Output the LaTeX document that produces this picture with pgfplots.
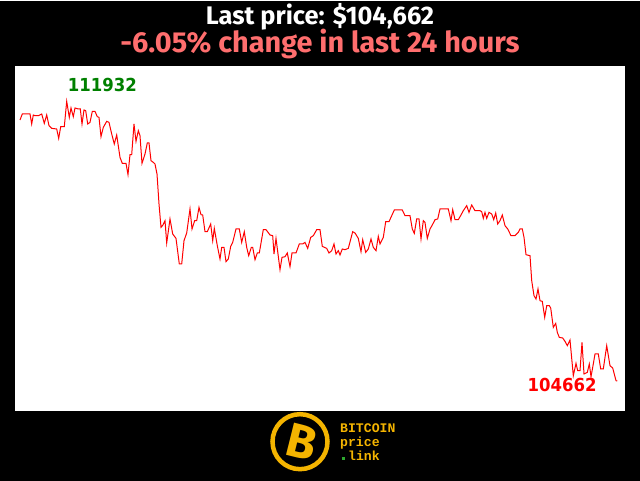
\documentclass[border=0pt]{standalone}
\usepackage{pgfplots}
\pgfplotsset{compat=1.18}
\usepackage{fontspec}
\setmainfont{Fira Sans}
\newfontfamily\labelfont[FakeStretch=0.92]{DejaVu Sans}
\newfontfamily\logofont{Liberation Mono}
\definecolor{lossred}{HTML}{FF6E6E}
\definecolor{hiGreen}{HTML}{008000}
\definecolor{btcgold}{HTML}{F4B400}
\definecolor{dotgreen}{HTML}{2EA82E}

\begin{document}
\begin{tikzpicture}[x=1bp,y=1bp]
% page background and white plot panel
\fill[black] (0,0) rectangle (640,480);
\fill[white] (15,70) rectangle (625,415);

\begin{axis}[
    at={(15bp,70bp)}, anchor=south west,
    scale only axis,
    width=610bp, height=345bp,
    xmin=15, xmax=625,
    ymin=103890, ymax=112860,
    axis lines=none,
    clip=false,
]
\addplot[color=red, line width=1bp, mark=none] coordinates {
(20,111448) (22.3,111604) (28.3,111604) (30,111604) (31.7,111344) (33.3,111578)
(35,111560) (38.3,111560) (41.7,111604) (44.3,111360) (46.7,111578) (49,111300)
(51.7,111230) (56.7,111214) (58.7,110970) (60.7,111274) (64.3,111274) (66.7,111932)
(69.3,111516) (71,111760) (73.3,111534) (75,111760) (78.3,111734) (80.3,111734)
(82,111344) (84,111708) (85.7,111690) (87.7,111344) (90,111386) (92.3,111672)
(95,111672) (97.3,111534) (99,111516) (101,111014) (103.3,111256) (106.7,111412)
(109,111386) (111.7,111084) (114.3,110824) (116.7,111058) (120,110476) (122.3,110320)
(126,110320) (128,110026) (130,110546) (131.7,110546) (134,111344) (136,110892)
(138.3,111170) (140,111040) (142,110320) (145,110564) (147.3,110850) (149,110850)
(151,110390) (153.3,110346) (155,110304) (157,110044) (159,109264) (161,108656)
(163,108720) (165,108830) (166.7,108250) (170,108874) (172.7,108484) (176,108370)
(179.3,107704) (181.7,107704) (184,108310) (186.7,108510) (190,109134) (192,108614)
(194.7,108830) (196.7,108830) (199,109176) (201,108986) (202.7,108978) (205,108544)
(207.3,108544) (210.7,108744) (212.7,108310) (214.3,108630) (217.3,108180) (220,107834)
(221.7,108136) (224,108136) (226,107764) (228.3,107834) (230.7,108162) (232.7,108266)
(236,108614) (239.3,108614) (241.7,108266) (244.3,108544) (246.7,108136) (248.7,107920)
(251.3,108136) (252.7,108136) (255,107816) (257.3,107990) (259.3,107990) (263.3,108596)
(266,108596) (270,108458) (272.7,108440) (274,107964) (276,108370) (280,107556)
(282,107876) (285,107894) (287.3,107990) (290,107634) (292,107990) (296,107990)
(299.3,108224) (302.7,108224) (305,108266) (307.7,108110) (310.7,108396) (313.3,108440)
(316.7,108596) (320,108596) (322.3,108162) (326.7,108110) (329,107990) (331.7,108050)
(334,108224) (336,107964) (338.3,108050) (340,107938) (342.3,108094) (345,108076)
(348.3,108110) (352.7,108544) (355,108510) (358.3,108370) (361,108024) (362.7,108336)
(365.7,108006) (368.3,108094) (371,108354) (373.3,108136) (376,108050) (378.3,108422)
(380,108224) (383.3,108396) (385.7,108804) (389,108804) (394.3,109108) (402.3,109108)
(405,108960) (410,108960) (412.3,108614) (414.3,108500) (416.7,108874) (419,108874)
(421,108354) (423.3,108830) (425,108786) (427.3,108370) (430,108614) (432.3,108718)
(435,108856) (437.7,108874) (440,109134) (448.3,109134) (451,108830) (452.7,109116)
(455,108856) (458.3,108856) (461,108978) (463.3,109090) (466.7,109220) (469,109046)
(471.7,109238) (475,109090) (480,109090) (481.7,109064) (483.3,108890) (485,109046)
(486.7,108890) (489,109046) (491.7,109004) (493.7,108856) (495.7,109030) (497.7,108744)
(500,108830) (502.3,108978) (505,108700) (507.7,108614) (511,108440) (515,108440)
(518.3,108526) (520,108614) (522.3,108614) (524,108396) (526,107946) (530,107920)
(531.7,107270) (534,106880) (536,106794) (538,107054) (540,106750) (542.3,106732)
(544.7,106316) (546.7,106620) (549.3,106620) (550.7,106560) (553.3,106056) (555.7,106160)
(557.3,105926) (559.3,105796) (562.7,105780) (565,105692) (567.3,105580) (570,105728)
(573.3,104800) (576,105120) (577.7,104930) (580,104930) (582,105666) (584,104844)
(587.3,104886) (589.3,105104) (591,104774) (592.7,105016) (595,105364) (598.3,105364)
(600.7,104974) (603.3,104974) (606.7,105580) (610,105060) (612.7,105000) (616,104670)
(617.3,104662)
};
\node[anchor=base west, inner sep=0pt, xshift=1bp, yshift=9.7bp, text=hiGreen,
      font=\labelfont\bfseries\fontsize{18}{18}\selectfont]
  at (axis cs:66.7,111932) {111932};
\node[anchor=base east, inner sep=0pt, xshift=-20.6bp, yshift=-10.7bp, text=red,
      font=\labelfont\bfseries\fontsize{18}{18}\selectfont]
  at (axis cs:617.3,104662) {104662};
\end{axis}

% titles
\node[text=white, font=\bfseries\fontsize{25.5}{27}\selectfont] at (320,464) {Last price: \$104,662};
\node[text=lossred, font=\bfseries\fontsize{29}{31}\selectfont] at (320,437) {-6.05\% change in last 24 hours};

% logo
\draw[btcgold, line width=4.5bp] (300,39) circle (27.5);
\node[text=btcgold, rotate=-14, font=\bfseries\fontsize{48}{48}\selectfont] at (302,39) {B};
\fill[black, rotate around={-14:(300,39)}] (285,32) rectangle (289,47);
\node[anchor=base west, inner sep=0pt, text=btcgold, font=\logofont\bfseries\fontsize{13.2}{14}\selectfont] at (340,48) {BITCOIN};
\node[anchor=base west, inner sep=0pt, text=btcgold, font=\logofont\bfseries\fontsize{13.2}{14}\selectfont] at (340,34) {price};
\fill[dotgreen] (342,21) rectangle (345,24);
\node[anchor=base west, inner sep=0pt, text=btcgold, font=\logofont\bfseries\fontsize{13.2}{14}\selectfont] at (348,20) {link};
\end{tikzpicture}
\end{document}
